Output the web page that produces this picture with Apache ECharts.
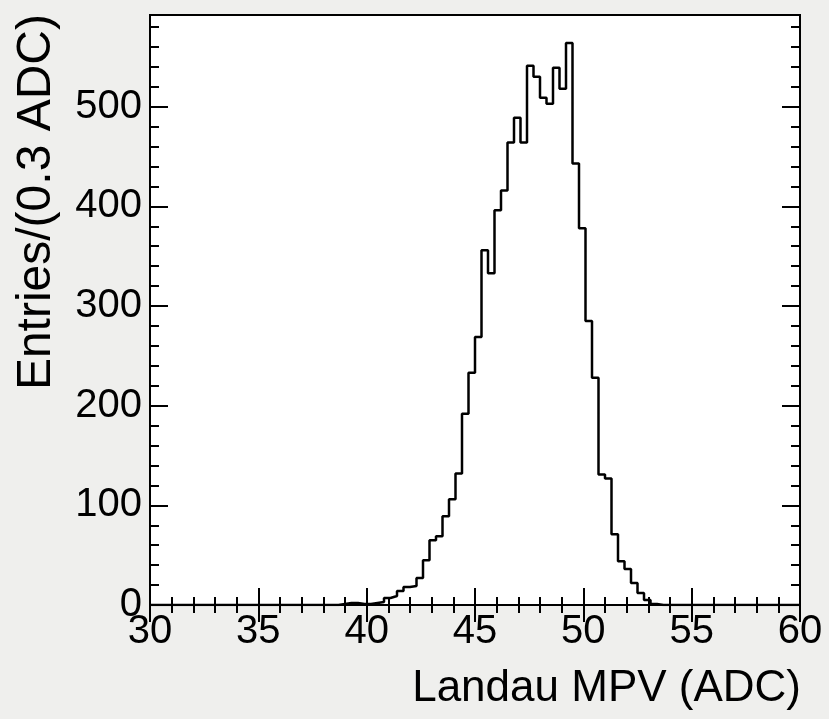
<!DOCTYPE html>
<html><head><meta charset="utf-8">
<script src="https://cdn.jsdelivr.net/npm/echarts@6/dist/echarts.min.js"></script>
<style>html,body{margin:0;padding:0;background:#efefed;}#c{width:829px;height:719px;}</style>
</head><body><div id="c"></div>
<script>
const xMin = 30, xMax = 60, binWidth = 0.3;
const yMin = 0, yMax = 592;
const counts = [
  0,0,0,0,0,0,0,0,0,0,
  0,0,0,0,0,0,0,0,0,0,
  0,0,0,0,0,0,0,0,0,1,
  2,2,1,1,2,3,7,9,14,18,
  19,27,45,65,69,89,106,132,192,233,
  269,356,333,396,416,464,489,464,541,530,
  509,503,539,518,564,443,378,285,228,131,
  127,71,44,36,22,12,5,1,0,0,
  0,0,0,0,0,0,0,0,0,0,
  0,0,0,0,0,0,0,0,0,0
];
const xTickStep = 5;
const yTickStep = 100;
const yMinorTicks = [20,40,60,80,120,140,160,180,220,240,260,280,320,340,360,380,420,440,460,480,520,540,560,580];
const xTitle = 'Landau MPV (ADC)';
const yTitle = 'Entries/(0.3 ADC)';

const FONT = '"Liberation Sans", Arial, Helvetica, sans-serif';
const pts = counts.map((c, i) => [+(xMin + i * binWidth).toFixed(4), c]);
pts.push([xMax, counts[counts.length - 1]]);

const chart = echarts.init(document.getElementById('c'), null, {renderer: 'canvas'});
const tickStyle = {color: '#000', width: 2};
function xAx(pos, labels) {
  return {
    type: 'value', position: pos, min: xMin, max: xMax, interval: xTickStep,
    axisLine: {show: false},
    axisTick: {show: true, inside: true, length: 17, lineStyle: tickStyle},
    minorTick: {show: true, splitNumber: 5, length: 8, lineStyle: tickStyle},
    splitLine: {show: false},
    axisLabel: {show: labels, color: '#000', fontSize: 40, fontFamily: FONT, margin: 7}
  };
}
function yAxMajor(pos, labels) {
  return {
    type: 'value', position: pos, min: yMin, max: yMax, interval: yTickStep,
    axisLine: {show: false},
    axisTick: {show: true, inside: true, length: 18, lineStyle: tickStyle},
    minorTick: {show: false},
    splitLine: {show: false},
    axisLabel: {show: labels, showMaxLabel: false, color: '#000', fontSize: 40, fontFamily: FONT, margin: 8}
  };
}
function yAxMinor(pos) {
  return {
    type: 'value', position: pos, min: yMin, max: yMax,
    axisLine: {show: false},
    axisTick: {show: true, inside: true, length: 9, lineStyle: tickStyle, customValues: yMinorTicks},
    splitLine: {show: false},
    axisLabel: {show: false}
  };
}
chart.setOption({
  animation: false,
  backgroundColor: '#efefed',
  grid: {left: 150, top: 15, width: 650, height: 590, show: true, backgroundColor: '#ffffff', borderColor: '#000', borderWidth: 2, containLabel: false},
  xAxis: [xAx('bottom', true), xAx('top', false)],
  yAxis: [yAxMajor('left', true), yAxMinor('left'), yAxMajor('right', false), yAxMinor('right')],
  series: [{
    type: 'line', xAxisIndex: 0, yAxisIndex: 0, step: 'end', symbol: 'none',
    lineStyle: {color: '#000', width: 2.5}, data: pts, z: 3
  }],
  graphic: [
    {type: 'text', right: 28, top: 667, style: {text: xTitle, font: '44px ' + FONT, fill: '#000'}},
    {type: 'text', x: 37, y: 14, rotation: Math.PI / 2, style: {text: yTitle, font: '48px ' + FONT, fill: '#000', align: 'right', verticalAlign: 'middle'}}
  ]
});
</script></body></html>
